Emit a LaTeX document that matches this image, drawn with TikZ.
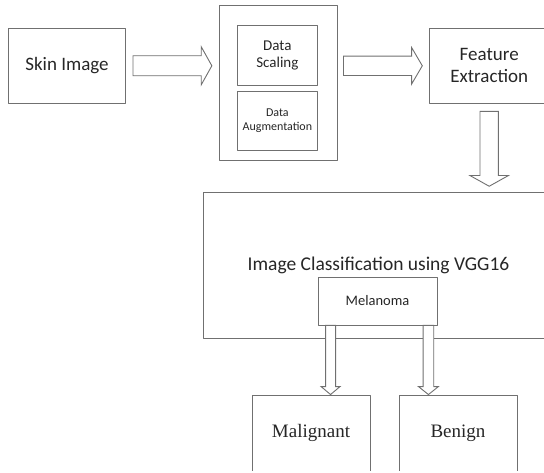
\documentclass[tikz,border=0pt]{standalone}
\usepackage{fontspec}
\setmainfont{Carlito}
\newfontfamily\serifrm{Liberation Serif}
\usetikzlibrary{calc}
\definecolor{boxgray}{RGB}{112,112,112}
\definecolor{txtgray}{RGB}{38,38,38}
\tikzset{
	box/.style={draw=boxgray, line width=.9pt, inner sep=0pt, align=center, text=txtgray},
	blk/.style={draw=boxgray, line width=.9pt, fill=white, line join=miter},
}
% block arrows: start, tip, half body, half head, head length
\newcommand{\harrow}[5]{\draw[blk] let \p1=(#1), \p2=(#2) in (\x1,\y1+#3) -- (\x2-#5,\y1+#3) -- (\x2-#5,\y1+#4) -- (\x2,\y1) -- (\x2-#5,\y1-#4) -- (\x2-#5,\y1-#3) -- (\x1,\y1-#3) -- cycle;}
\newcommand{\varrow}[5]{\draw[blk] let \p1=(#1), \p2=(#2) in (\x1-#3,\y1) -- (\x1-#3,\y2+#5) -- (\x1-#4,\y2+#5) -- (\x1,\y2) -- (\x1+#4,\y2+#5) -- (\x1+#3,\y2+#5) -- (\x1+#3,\y1) -- cycle;}
\begin{document}
\begin{tikzpicture}[x=1pt, y=-1pt, line join=round, line cap=round]
			\useasboundingbox (0,0) rectangle (544,473);
			\clip (0,0) rectangle (544,470);
			%\draw[gray!30] (0,0) grid[step=50] (544,473);
			\node[box, minimum width=117.7, minimum height=75, font=\fontsize{19}{22}\selectfont] (skin) at (67,65.8) {Skin Image};
			\node[box, minimum width=118, minimum height=155.7] (prep) at (278,82.85) {};
			\node[box, minimum width=79.3, minimum height=60, font=\fontsize{15}{17}\selectfont] (scal) at (277.35,55) {Data\\Scaling};
			\node[box, minimum width=79.3, minimum height=58.3, font=\fontsize{12}{14}\selectfont] (aug) at (277.35,120.85) {Data\\Augmentation};
			\node[box, minimum width=119.7, minimum height=75, font=\fontsize{19}{22}\selectfont] (feat) at (489.2,65.8) {Feature\\Extraction};
			\node[box, minimum width=351, minimum height=145.3, font=\fontsize{19.5}{22}\selectfont] (cls) at (378.5,265.35) {\raisebox{-2pt}{Image Classification using VGG16}};
			\node[box, minimum width=119, minimum height=48, font=\fontsize{14.5}{17}\selectfont] (mel) at (377.5,301) {Melanoma};
			\node[box, minimum width=118, minimum height=76, font=\fontsize{19}{22}\serifrm] (mal) at (311,433) {Malignant};
			\node[box, minimum width=118, minimum height=76, font=\fontsize{19}{22}\serifrm] (ben) at (458,433) {Benign};
			% arrows
			\harrow{$(skin.east)+(6.7,0)$}{$(prep.west|-skin.east)+(-6.7,0)$}{10pt}{19pt}{10.6pt}
			\harrow{$(prep.east|-feat.west)+(6,0)$}{$(feat.west)+(-6.6,0)$}{9.7pt}{18.3pt}{10.7pt}
			\varrow{$(feat.south)+(0,7.7)$}{$(cls.north)+(0,-6)$}{9.2pt}{19.2pt}{10.7pt}
			\varrow{$(mel.south west)+(13,0)$}{mal.north}{5pt}{9.5pt}{8pt}
			\varrow{$(mel.south east)+(-9,0)$}{ben.north}{5.3pt}{10pt}{8pt}
		\end{tikzpicture}
\end{document}
